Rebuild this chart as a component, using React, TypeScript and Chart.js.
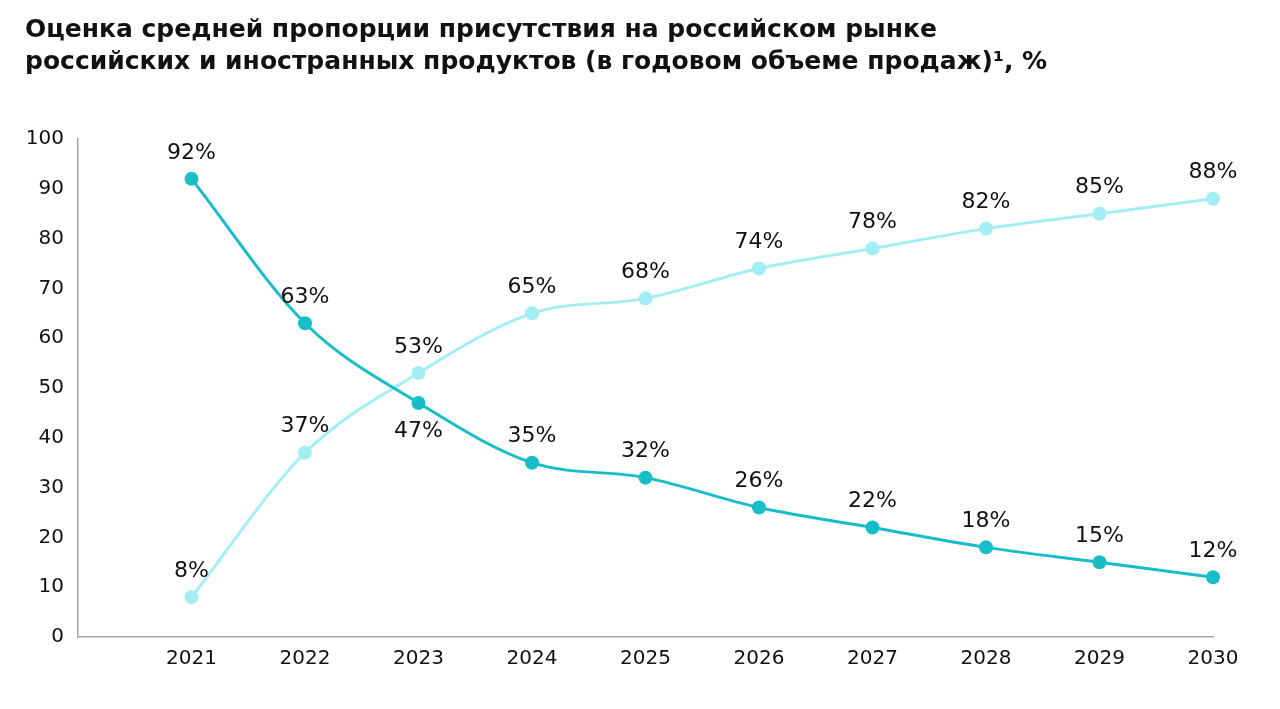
import React, { useEffect, useRef } from "react";
import { Chart, registerables } from "chart.js";

Chart.register(...registerables);

// Years on the x axis; the leading blank slot leaves space before 2021
const years = ["", "2021", "2022", "2023", "2024", "2025", "2026", "2027", "2028", "2029", "2030"];
// Share of Russian products, %
const russianShare = [null, 8, 37, 53, 65, 68, 74, 78, 82, 85, 88];
// Share of foreign products, %
const foreignShare = [null, 92, 63, 47, 35, 32, 26, 22, 18, 15, 12];
// Labels placed under their point instead of above (dataset index, point index)
const labelsBelow = [[1, 3]];

const titleLines = [
  "Оценка средней пропорции присутствия на российском рынке",
  "российских и иностранных продуктов (в годовом объеме продаж)¹, %",
];

const FONT = "'DejaVu Sans', Verdana, sans-serif";
const DARK = "#17BEC8";
const LIGHT = "#A2EEF4";

const valueLabels = {
  id: "valueLabels",
  afterDatasetsDraw(chart: any) {
    const ctx = chart.ctx;
    ctx.save();
    ctx.font = `22px ${FONT}`;
    ctx.fillStyle = "#111";
    ctx.textAlign = "center";
    ctx.textBaseline = "middle";
    chart.data.datasets.forEach((ds: any, di: number) => {
      const meta = chart.getDatasetMeta(di);
      meta.data.forEach((pt: any, i: number) => {
        const v = ds.data[i];
        if (v === null || v === undefined) return;
        const below = labelsBelow.some(([a, b]) => a === di && b === i);
        const y = below ? pt.y + 28 : pt.y - 26;
        ctx.fillText(`${v}%`, pt.x, y);
      });
    });
    ctx.restore();
  },
};

export default function App() {
  const ref = useRef<HTMLCanvasElement>(null);

  useEffect(() => {
    if (!ref.current) return;
    const lineStyle = {
      borderWidth: 3,
      pointRadius: 7,
      pointBorderWidth: 0,
      cubicInterpolationMode: "monotone" as const,
    };
    const chart = new Chart(ref.current, {
      type: "line",
      data: {
        labels: years,
        datasets: [
          {
            label: "Российские",
            data: russianShare,
            borderColor: LIGHT,
            backgroundColor: LIGHT,
            ...lineStyle,
            order: 1,
          },
          {
            label: "Иностранные",
            data: foreignShare,
            borderColor: DARK,
            backgroundColor: DARK,
            ...lineStyle,
            order: 0,
          },
        ],
      },
      options: {
        responsive: false,
        animation: false,
        layout: { padding: { left: 25, right: 67, top: 14, bottom: 28 } },
        plugins: {
          legend: { display: false },
          tooltip: { enabled: false },
          title: {
            display: true,
            text: titleLines,
            align: "start",
            color: "#111",
            font: { family: FONT, size: 25, weight: "bold", lineHeight: 1.28 },
            padding: { top: 0, bottom: 61 },
          },
        },
        scales: {
          x: {
            offset: false,
            grid: { display: false, drawTicks: false },
            border: { display: true, color: "#A6A6A6", width: 1.5 },
            ticks: { color: "#111", font: { family: FONT, size: 20 }, padding: 10, maxRotation: 0, autoSkip: false },
          },
          y: {
            min: 0,
            max: 100,
            grid: { display: false, drawTicks: false },
            border: { display: true, color: "#A6A6A6", width: 1.5 },
            ticks: { stepSize: 10, color: "#111", font: { family: FONT, size: 20 }, padding: 14 },
            afterFit: (scale: any) => {
              scale.width = 53;
            },
          },
        },
      },
      plugins: [valueLabels],
    });
    return () => chart.destroy();
  }, []);

  return (
    <div style={{ position: "fixed", left: 0, top: 0, width: 1280, height: 709, background: "#fff" }}>
      <canvas ref={ref} width={1280} height={709} />
    </div>
  );
}
